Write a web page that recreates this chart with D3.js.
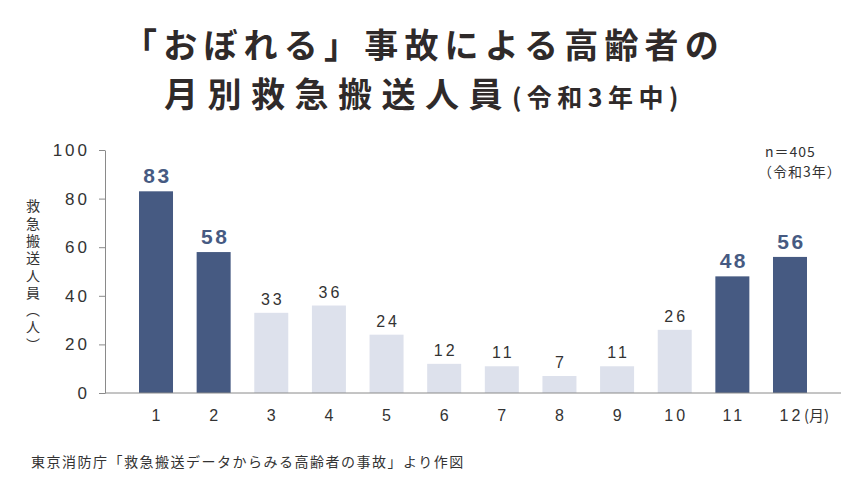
<!DOCTYPE html>
<html>
<head>
<meta charset="utf-8">
<script src="https://cdn.jsdelivr.net/npm/d3@7"></script>
<style>
  body { margin: 0; background: #fff; }
</style>
</head>
<body>
<div id="chart"></div>
<script>
const width = 864;
const height = 486;

// data
const months = [1, 2, 3, 4, 5, 6, 7, 8, 9, 10, 11, 12];
const people = [83, 58, 33, 36, 24, 12, 11, 7, 11, 26, 48, 56];
const highlight = [1, 2, 11, 12]; // dark bars
const yTicks = [0, 20, 40, 60, 80, 100];

const dark = "#465a82";
const light = "#dde1ec";
const ink = "#2f2a2a";
const jp = "Noto Sans CJK JP, sans-serif";
const num = "Liberation Sans, Arial, sans-serif";

const svg = d3.select("#chart")
    .append("svg")
    .attr("width", width)
    .attr("height", height)
    .attr("font-family", jp);

// title
svg.append("text")
    .attr("x", 424)
    .attr("y", 58)
    .attr("text-anchor", "middle")
    .attr("font-size", 34)
    .attr("font-weight", "bold")
    .attr("letter-spacing", 6.2)
    .attr("fill", ink)
    .text("「おぼれる」事故による高齢者の");

const t2 = svg.append("text")
    .attr("x", 424)
    .attr("y", 107)
    .attr("text-anchor", "middle")
    .attr("font-weight", "bold")
    .attr("fill", ink);
t2.append("tspan").attr("font-size", 34).attr("letter-spacing", 9.5).text("月別救急搬送人員");
t2.append("tspan").attr("font-size", 25).attr("letter-spacing", 5.5).text("(令和3年中)");

const x = d3.scaleBand()
    .domain(months)
    .range([105, 841])
    .paddingInner(0.41)
    .paddingOuter(0.59);

const y = d3.scaleLinear()
    .domain([0, 100])
    .range([393, 150]);

// y axis
const yAxis = svg.append("g")
    .attr("transform", "translate(105,0)")
    .call(d3.axisLeft(y).tickValues(yTicks).tickSize(6).tickSizeOuter(0));
yAxis.select(".domain").attr("stroke", "#8a8a8a");
yAxis.selectAll(".tick line").attr("stroke", "#8a8a8a");
yAxis.selectAll(".tick text")
    .attr("x", -15)
    .attr("font-size", 17)
    .attr("letter-spacing", 3)
    .attr("fill", "#333")
    .style("font-family", num);

// bars
svg.selectAll("rect.bar")
    .data(months)
    .join("rect")
    .attr("class", "bar")
    .attr("x", d => x(d))
    .attr("width", x.bandwidth())
    .attr("y", (d, i) => y(people[i]))
    .attr("height", (d, i) => y(0) - y(people[i]))
    .attr("fill", d => highlight.includes(d) ? dark : light);

// baseline
svg.append("line")
    .attr("x1", 105).attr("x2", 841)
    .attr("y1", y(0)).attr("y2", y(0))
    .attr("stroke", "#8a8a8a");

// value labels
svg.selectAll("text.val")
    .data(months)
    .join("text")
    .attr("class", "val")
    .attr("x", d => x(d) + x.bandwidth() / 2 + 1.5)
    .attr("y", (d, i) => y(people[i]) - 8)
    .attr("text-anchor", "middle")
    .style("font-family", num)
    .attr("font-size", d => highlight.includes(d) ? 21 : 16)
    .attr("font-weight", d => highlight.includes(d) ? "bold" : "normal")
    .attr("letter-spacing", d => highlight.includes(d) ? 2.5 : 3)
    .attr("fill", d => highlight.includes(d) ? dark : "#333")
    .text((d, i) => people[i]);

// x labels
svg.selectAll("text.xl")
    .data(months)
    .join("text")
    .attr("class", "xl")
    .attr("x", d => x(d) + x.bandwidth() / 2 + 1.5)
    .attr("y", 421)
    .attr("text-anchor", "middle")
    .style("font-family", num)
    .attr("font-size", 16)
    .attr("letter-spacing", 3)
    .attr("fill", "#333")
    .text(d => d);

svg.append("text")
    .attr("x", x(12) + x.bandwidth() / 2 + 14)
    .attr("y", 421)
    .attr("font-size", 15)
    .attr("fill", "#333")
    .text("(月)");

// y axis title (vertical)
svg.append("text")
    .attr("x", 33)
    .attr("y", 199)
    .attr("font-size", 14)
    .attr("fill", "#333")
    .style("writing-mode", "vertical-rl")
    .attr("letter-spacing", 3.3)
    .text("救急搬送人員（人）");

// n note
svg.append("text")
    .attr("x", 765)
    .attr("y", 157)
    .attr("font-size", 14)
    .attr("letter-spacing", 1)
    .attr("fill", "#333")
    .text("n＝405");
svg.append("text")
    .attr("x", 758)
    .attr("y", 177)
    .attr("font-size", 14)
    .attr("letter-spacing", 1)
    .attr("fill", "#333")
    .text("（令和3年）");

// source
svg.append("text")
    .attr("x", 31)
    .attr("y", 467)
    .attr("font-size", 14)
    .attr("letter-spacing", 1.5)
    .attr("fill", "#333")
    .text("東京消防庁「救急搬送データからみる高齢者の事故」より作図");
</script>
</body>
</html>
